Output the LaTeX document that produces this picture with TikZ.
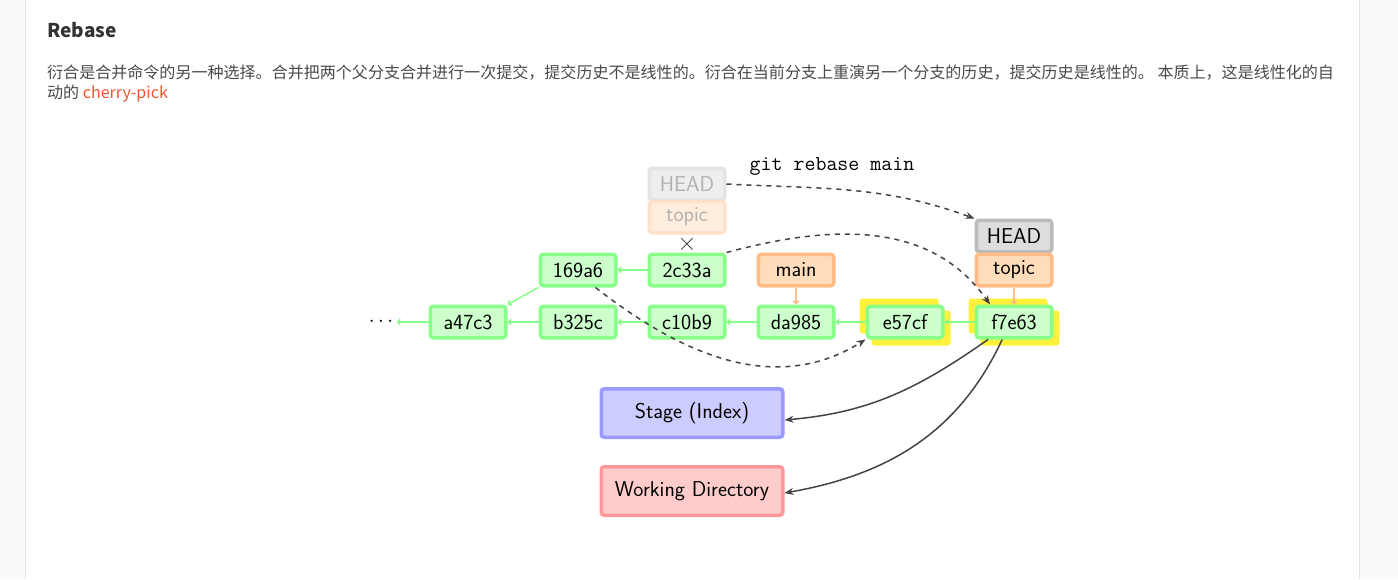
\documentclass[tikz,border=0pt]{standalone}
\usepackage{fontspec}
\newfontfamily\cjk{Noto Sans CJK SC}
\usetikzlibrary{arrows.meta}

\definecolor{pagebg}{HTML}{FAFAFA}
\definecolor{cardedge}{HTML}{E4E4E4}
\definecolor{titletext}{HTML}{333333}
\definecolor{bodytext}{HTML}{4A4A4A}
\definecolor{linkred}{HTML}{F0552D}
\definecolor{commitline}{HTML}{88FF88}
\definecolor{commitfill}{HTML}{CCFFCC}
\definecolor{branchline}{HTML}{FFBB88}
\definecolor{branchfill}{HTML}{FFDDBB}
\definecolor{headline}{HTML}{BBBBBB}
\definecolor{headfill}{HTML}{DDDDDD}
\definecolor{stageline}{HTML}{9999FF}
\definecolor{stagefill}{HTML}{CCCCFF}
\definecolor{workline}{HTML}{FF9999}
\definecolor{workfill}{HTML}{FFCCCC}
\definecolor{copyglow}{HTML}{FFF03C}
\definecolor{movearrow}{HTML}{444444}

\begin{document}
\begin{tikzpicture}[x=1pt, y=1pt,
    every node/.style={font=\sffamily\fontsize{21.5}{24}\selectfont},
    box/.style={line width=3.5pt, rounded corners=3pt, inner sep=0pt, minimum width=75.5pt, minimum height=31.5pt},
    commit/.style={box, draw=commitline, fill=commitfill},
    branch/.style={box, draw=branchline, fill=branchfill},
    head/.style={box, draw=headline, fill=headfill},
    oldhead/.style={box, draw=headline!40, fill=headfill!50, text=black!30},
    oldbranch/.style={box, draw=branchline!45, fill=branchfill!50, text=black!30},
    area/.style={box, minimum width=181.5pt, minimum height=48.5pt},
    glow/.style={fill=copyglow, rounded corners=3pt, minimum width=79pt, minimum height=35pt, inner sep=0pt},
    parent/.style={-{To[length=4pt, width=7pt]}, line width=1.5pt, draw=commitline},
    points/.style={-{To[length=4pt, width=7pt]}, line width=1.5pt, draw=branchline},
    move/.style={-{Stealth[length=9pt, width=7pt]}, line width=1.5pt, draw=movearrow, dash pattern=on 5pt off 5pt},
    checkout/.style={-{Stealth[length=9pt, width=7pt]}, line width=1.5pt, draw=movearrow}]
    \useasboundingbox (0,0) rectangle (1398,-579);

    % Page and card
    \fill[pagebg] (0,0) rectangle (1398,-579);
    \fill[white] (26,0) rectangle (1359,-579);
    \draw[cardedge, line width=1pt] (25.5,0) -- (25.5,-579);
    \draw[cardedge, line width=1pt] (1359.5,0) -- (1359.5,-579);

    % Heading and text
    \node[anchor=base west, inner sep=0pt, text=titletext, font=\cjk\bfseries\fontsize{19}{22}\selectfont] (title) at (47,-37) {Rebase};
    \node[anchor=west, inner sep=0pt, text=bodytext, font=\cjk\fontsize{16.04}{20}\selectfont] (line1) at (47,-73) {衍合是合并命令的另一种选择。合并把两个父分支合并进行一次提交，提交历史不是线性的。衍合在当前分支上重演另一个分支的历史，提交历史是线性的。 本质上，这是线性化的自};
    \node[anchor=west, inner sep=0pt, text=bodytext, font=\cjk\fontsize{16.04}{20}\selectfont] (line2) at (47,-94) {动的 \textcolor{linkred}{cherry-pick}};

    % Copied commits glow
    \node[glow] (glowa) at (899,-316) {};
    \node[glow] (glowb) at (911,-328) {};
    \node[glow] (glowc) at (1008,-316) {};
    \node[glow] (glowd) at (1020,-328) {};

    % Commits
    \node (dots) at (381,-322) {$\cdots$};
    \node[commit] (a47c3) at (468,-322) {a47c3};
    \node[commit] (b325c) at (578,-322) {b325c};
    \node[commit] (c10b9) at (687,-322) {c10b9};
    \node[commit] (da985) at (796,-322) {da985};
    \node[commit] (e57cf) at (905,-322) {e57cf};
    \node[commit] (f7e63) at (1014,-322) {f7e63};
    \node[commit] (169a6) at (578,-270) {169a6};
    \node[commit] (2c33a) at (687,-270) {2c33a};

    % Branches
    \node[branch] (main) at (796,-270) {main};
    \node[oldhead] (oldHEAD) at (687,-184) {HEAD};
    \node[oldbranch] (oldtopic) at (687,-217) {topic};
    \node[text=black!75, inner sep=0pt, font=\fontsize{29}{29}\selectfont] (cut) at (687,-244) {$\times$};
    \node[head] (HEAD) at (1014,-236) {HEAD};
    \node[branch] (topic) at (1014,-270) {topic};

    % Index and work tree
    \node[area, draw=stageline, fill=stagefill] (stage) at (692,-413) {Stage (Index)};
    \node[area, draw=workline, fill=workfill] (work) at (692,-491) {Working Directory};

    % Parent links
    \draw[parent] (a47c3) -- (dots);
    \draw[parent] (b325c) -- (a47c3);
    \draw[parent] (c10b9) -- (b325c);
    \draw[parent] (da985) -- (c10b9);
    \draw[parent] (e57cf) -- (da985);
    \draw[parent] (f7e63) -- (e57cf);
    \draw[parent] (2c33a) -- (169a6);
    \draw[parent] (169a6.south west) -- (a47c3.north east);
    \draw[points] (main) -- (da985);
    \draw[points] (topic) -- (f7e63);

    % Rebase moves
    \node[font=\ttfamily\fontsize{21.3}{24}\selectfont] (cmd) at (832,-166) {git rebase main};
    \draw[move] (oldHEAD.east) to[out=-3, in=160] (HEAD.north west);
    \draw[move] (2c33a.north east) to[out=15, in=125] ([xshift=-24pt]f7e63.north);
    \draw[move] (169a6.-45) to[out=-38, in=212] (e57cf.south west);

    % Checkout
    \draw[checkout] (f7e63.-146) to[out=215, in=5] ([yshift=-7pt]stage.east);
    \draw[checkout] (f7e63.-124) to[out=245, in=10] ([yshift=-2pt]work.east);
\end{tikzpicture}
\end{document}
